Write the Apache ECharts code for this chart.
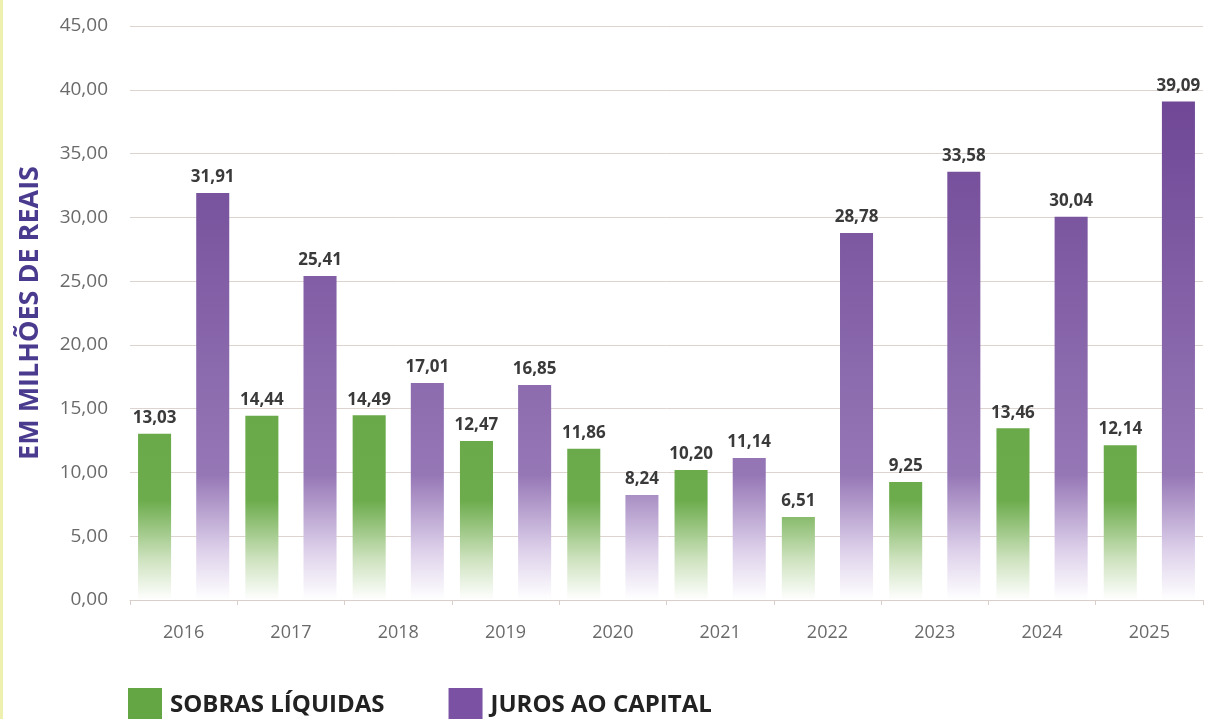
<!DOCTYPE html>
<html>
<head>
<meta charset="utf-8">
<script src="https://cdn.jsdelivr.net/npm/echarts@6/dist/echarts.min.js"></script>
<style>
  html, body { margin: 0; padding: 0; background: #fff; }
  #container-chart { width: 1208px; height: 719px; }
</style>
</head>
<body>
<div id="container-chart"></div>
<script>
var years = ['2016', '2017', '2018', '2019', '2020', '2021', '2022', '2023', '2024', '2025'];
var sobras = [13.03, 14.44, 14.49, 12.47, 11.86, 10.20, 6.51, 9.25, 13.46, 12.14];
var juros = [31.91, 25.41, 17.01, 16.85, 8.24, 11.14, 28.78, 33.58, 30.04, 39.09];
var seriesNames = ['SOBRAS LÍQUIDAS', 'JUROS AO CAPITAL'];

function fmt(v) {
  return Number(v).toFixed(2).replace('.', ',');
}

drawChart('chart');

function drawChart(element) {
  var dom = document.getElementById('container-' + element);
  var myChart = echarts.init(dom);
  var font = '"Open Sans", "Noto Sans", sans-serif';

  // bars fade to white near the axis (global gradient, pixel coords)
  var greenFill = new echarts.graphic.LinearGradient(0, 600, 0, 100, [
    {offset: 0, color: '#ffffff'},
    {offset: 0.08, color: '#cfe3c0'},
    {offset: 0.2, color: '#6cac4c'},
    {offset: 1, color: '#5e9e3e'}
  ], true);
  var purpleFill = new echarts.graphic.LinearGradient(0, 600, 0, 100, [
    {offset: 0, color: '#ffffff'},
    {offset: 0.1, color: '#ddd0ea'},
    {offset: 0.25, color: '#9677b6'},
    {offset: 1, color: '#6f4796'}
  ], true);

  var labelStyle = {
    show: true,
    position: 'top',
    distance: 7,
    formatter: function (p) { return fmt(p.value); },
    color: '#3a3a3a',
    fontWeight: 'bold',
    fontSize: 17,
    fontFamily: font
  };

  var option = {
    backgroundColor: '#fff',
    animation: false,
    grid: {
      left: 130,
      right: 5,
      top: 26,
      bottom: 119
    },
    legend: {
      left: 123,
      top: 683,
      itemWidth: 34,
      itemHeight: 34,
      itemGap: 64,
      icon: 'rect',
      data: [
        {name: seriesNames[0], itemStyle: {color: '#64a544'}},
        {name: seriesNames[1], itemStyle: {color: '#7b52a3'}}
      ],
      textStyle: {
        color: '#222',
        fontWeight: 'bold',
        fontSize: 24,
        fontFamily: font,
        padding: [0, 0, 0, 3]
      }
    },
    xAxis: {
      type: 'category',
      data: years,
      axisLine: {lineStyle: {color: '#d8cfcb', width: 1}},
      axisTick: {show: true, lineStyle: {color: '#d8cfcb'}, length: 5},
      axisLabel: {color: '#6a6a6a', fontSize: 18, margin: 24, fontFamily: font}
    },
    yAxis: {
      type: 'value',
      min: 0,
      max: 45,
      interval: 5,
      name: 'EM MILHÕES DE REAIS',
      nameLocation: 'middle',
      nameGap: 86,
      nameRotate: 90,
      nameTextStyle: {
        color: '#4b3b8e',
        fontWeight: 'bold',
        fontSize: 27,
        fontFamily: font
      },
      axisLabel: {
        color: '#6a6a6a',
        fontSize: 19,
        margin: 22,
        fontFamily: font,
        formatter: function (v) { return fmt(v); }
      },
      splitLine: {lineStyle: {color: '#ddd3cf', width: 1}}
    },
    graphic: [{
      type: 'rect',
      left: 0,
      top: 0,
      shape: {width: 3, height: 719},
      style: {fill: '#eef0b0'},
      silent: true
    }],
    series: [
      {
        name: seriesNames[0],
        type: 'bar',
        data: sobras,
        barGap: '76%',
        barCategoryGap: '15%',
        itemStyle: {color: greenFill},
        label: labelStyle
      },
      {
        name: seriesNames[1],
        type: 'bar',
        data: juros,
        itemStyle: {color: purpleFill},
        label: labelStyle
      }
    ]
  };
  myChart.setOption(option, true);
}
</script>
</body>
</html>
